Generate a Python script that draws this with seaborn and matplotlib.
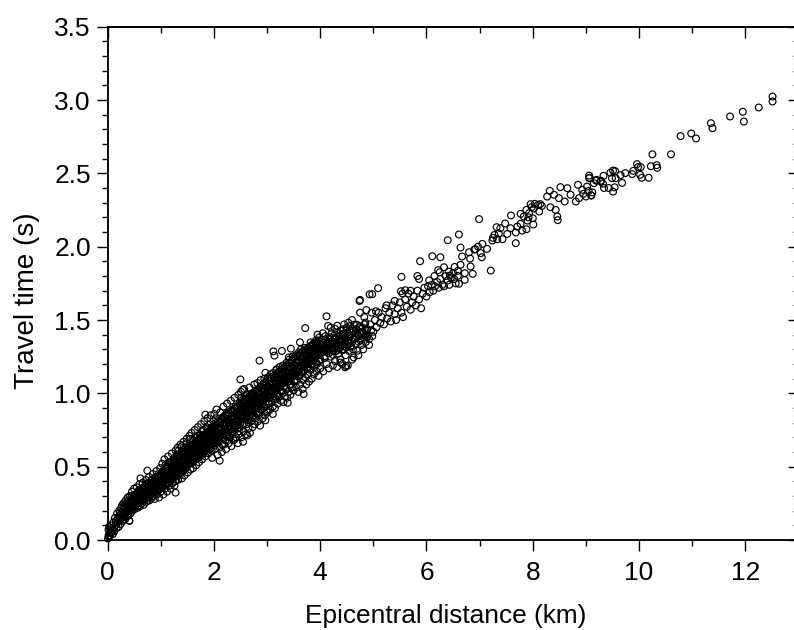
import matplotlib
matplotlib.use("Agg")
import matplotlib.pyplot as plt
from matplotlib.ticker import MultipleLocator
import pandas as pd
import seaborn as sns

origin_pts = [(0.01,.01),(0.02,.03),(0.03,.02),(0.04,.05),(0.02,.07),(0.05,.03),(0.06,.08),(0.07,.05),(0.03,.09),(0.08,.10),(0.09,.06),(0.1,.04),(0.11,.12),(0.12,.08),(0.13,.06),(0.14,.15),(0.15,.10),(0.16,.13),(0.17,.08),(0.18,.18),(0.19,.12),(0.2,.15),(0.21,.09),(0.22,.2),(0.23,.13),(0.24,.17),(0.25,.11),(0.26,.22),(0.27,.15),(0.28,.19),(0.29,.13),(0.3,.25),(0.31,.17),(0.32,.21),(0.33,.14),(0.34,.27),(0.35,.19),(0.36,.23),(0.37,.16),(0.38,.29),(0.39,.21),(0.4,.25),(0.41,.13),(0.42,.3),(0.43,.18),(0.44,.27),(0.45,.22),(0.46,.33),(0.47,.2),(0.48,.29),(0.49,.24)]

band_a = [(0.5,.35),(0.51,.21),(0.52,.27),(0.53,.31),(0.54,.24),(0.55,.36),(0.56,.29),(0.57,.22),(0.58,.33),(0.59,.26),(0.6,.38),(0.61,.23),(0.62,.31),(0.63,.28),(0.64,.35),(0.65,.25),(0.66,.39),(0.67,.3),(0.68,.24),(0.69,.33),(0.7,.27),(0.71,.37),(0.72,.41),(0.73,.26),(0.74,.31),(0.75,.35),(0.76,.29),(0.77,.39),(0.78,.43),(0.79,.27),(0.8,.33),(0.81,.37),(0.82,.31),(0.83,.41),(0.84,.29),(0.85,.45),(0.86,.35),(0.87,.39),(0.88,.33),(0.89,.28),(0.9,.43),(0.91,.37),(0.92,.47),(0.93,.31),(0.94,.41),(0.95,.35),(0.96,.45),(0.97,.29),(0.98,.39),(0.99,.49),(1.0,.33),(1.01,.43),(1.02,.37),(1.03,.52),(1.04,.47),(1.05,.31),(1.06,.41),(1.07,.55),(1.08,.35),(1.09,.45),(1.1,.39),(1.11,.5),(1.12,.33),(1.13,.43),(1.14,.57),(1.15,.47),(1.16,.37),(1.17,.53),(1.18,.41),(1.19,.35),(1.2,.45),(1.21,.59),(1.22,.5),(1.23,.39),(1.24,.55),(1.25,.43),(1.26,.37),(1.27,.48),(1.28,.61),(1.29,.41),(1.3,.52)]
band_b = [(1.01,.4),(1.03,.46),(1.05,.36),(1.07,.42),(1.09,.51),(1.11,.44),(1.13,.38),(1.15,.53),(1.17,.46),(1.19,.41),(1.21,.49),(1.23,.44),(1.25,.54),(1.27,.4),(1.29,.57),(1.31,.46),(1.32,.63),(1.33,.41),(1.34,.52),(1.35,.58),(1.36,.44),(1.37,.65),(1.38,.49),(1.39,.55),(1.4,.42),(1.41,.6),(1.42,.47),(1.43,.67),(1.44,.53),(1.45,.44),(1.46,.57),(1.47,.63),(1.48,.49),(1.49,.69),(1.5,.55),(1.51,.46),(1.52,.6),(1.53,.52),(1.54,.71),(1.55,.65),(1.56,.48),(1.57,.57),(1.58,.73),(1.59,.62),(1.6,.53),(1.61,.49),(1.62,.68),(1.63,.59),(1.64,.75),(1.65,.64),(1.66,.55),(1.67,.51),(1.68,.7),(1.69,.6),(1.7,.77),(1.71,.66),(1.72,.53),(1.73,.57),(1.74,.72),(1.75,.63),(1.76,.79),(1.77,.68),(1.78,.55),(1.79,.6),(1.8,.75),(1.81,.65),(1.82,.81),(1.83,.7),(1.84,.57),(1.85,.62),(1.86,.77),(1.87,.67),(1.88,.83),(1.89,.72),(1.9,.59),(1.91,.64),(1.92,.79),(1.93,.69),(1.94,.85),(1.95,.74),(1.96,.61),(1.97,.56),(1.98,.66),(1.99,.81)]
band_c = [(1.3,.58),(1.32,.54),(1.34,.61),(1.36,.5),(1.38,.57),(1.4,.64),(1.42,.55),(1.44,.6),(1.46,.51),(1.48,.66),(1.5,.61),(1.52,.56),(1.54,.64),(1.56,.69),(1.58,.58),(1.6,.65),(1.62,.6),(1.64,.7),(1.66,.62),(1.68,.58),(1.7,.71),(1.72,.63),(1.74,.67),(1.76,.6),(1.78,.74),(1.8,.69),(1.82,.62),(1.84,.72),(1.86,.66),(1.88,.76),(1.9,.7),(1.92,.62),(1.94,.73),(1.96,.67),(1.98,.77),(2.0,.71),(2.01,.86),(2.02,.62),(2.03,.76),(2.04,.66),(2.05,.89),(2.06,.72),(2.07,.58),(2.08,.81),(2.09,.68),(2.1,.77),(2.11,.63),(2.12,.87),(2.13,.73),(2.14,.83),(2.15,.6),(2.16,.7),(2.17,.79),(2.18,.91),(2.19,.65),(2.2,.75),(2.21,.85),(2.22,.68),(2.23,.62),(2.24,.8),(2.25,.93),(2.26,.72),(2.27,.87),(2.28,.66),(2.29,.77),(2.3,.83),(2.31,.7),(2.32,.95),(2.33,.64),(2.34,.79),(2.35,.89),(2.36,.74),(2.37,.68),(2.38,.84),(2.39,.97),(2.4,.76),(2.41,.91),(2.42,.7),(2.43,.81),(2.44,.86),(2.45,.66),(2.46,.99),(2.47,.74),(2.48,.93),(2.49,.79)]
band_d = [(2.0,.79),(2.02,.74),(2.04,.83),(2.06,.67),(2.08,.76),(2.1,.71),(2.12,.8),(2.14,.75),(2.16,.65),(2.18,.84),(2.2,.79),(2.22,.73),(2.24,.86),(2.26,.81),(2.28,.75),(2.3,.7),(2.32,.88),(2.34,.73),(2.36,.82),(2.38,.77),(2.4,.69),(2.42,.86),(2.44,.78),(2.46,.72),(2.48,.88),(2.5,.84),(2.51,1.01),(2.52,.7),(2.53,.94),(2.54,.78),(2.55,.89),(2.56,.74),(2.57,1.03),(2.58,.83),(2.59,.96),(2.6,.72),(2.61,.87),(2.62,.79),(2.63,.99),(2.64,.91),(2.65,.76),(2.66,.84),(2.67,1.04),(2.68,.73),(2.69,.93),(2.7,.81),(2.71,.88),(2.72,1.0),(2.73,.77),(2.74,.95),(2.75,.85),(2.76,1.06),(2.77,.79),(2.78,.91),(2.79,.83),(2.8,.97),(2.81,.87),(2.82,1.07),(2.83,.81),(2.84,1.01),(2.85,.93),(2.86,.86),(2.87,.78),(2.88,1.09),(2.89,.96),(2.9,.89),(2.91,1.03),(2.92,.83),(2.93,.98),(2.94,.91),(2.95,1.1),(2.96,.85),(2.97,1.05),(2.98,.94),(2.99,.88)]
band_e = [(2.5,.91),(2.52,.97),(2.54,.86),(2.56,.93),(2.58,.89),(2.6,.98),(2.62,.85),(2.64,.82),(2.66,.95),(2.68,.9),(2.7,.99),(2.72,.86),(2.74,.92),(2.76,.98),(2.78,.84),(2.8,.9),(2.82,.96),(2.84,.87),(2.86,1.0),(2.88,.92),(2.9,.98),(2.92,.93),(2.94,1.02),(2.96,.96),(2.98,1.08),(3.0,.99),(3.01,.87),(3.02,1.11),(3.03,.93),(3.04,1.04),(3.05,.97),(3.06,.89),(3.07,1.13),(3.08,1.01),(3.09,.94),(3.1,1.07),(3.11,.91),(3.12,1.14),(3.13,.98),(3.14,1.03),(3.15,.9),(3.16,1.09),(3.17,.96),(3.18,1.16),(3.19,1.0),(3.2,.93),(3.21,1.05),(3.22,1.11),(3.23,.98),(3.24,1.18),(3.25,1.02),(3.26,.95),(3.27,1.07),(3.28,1.13),(3.29,1.0),(3.3,1.19),(3.31,.94),(3.32,1.05),(3.33,1.1),(3.34,.98),(3.35,1.15),(3.36,1.03),(3.37,1.21),(3.38,.97),(3.39,1.08),(3.4,1.13),(3.41,1.01),(3.42,1.23),(3.43,1.06),(3.44,.99),(3.45,1.17),(3.46,1.11),(3.47,1.04),(3.48,1.25),(3.49,1.14)]
band_f = [(3.5,1.02),(3.51,1.08),(3.52,1.19),(3.53,1.12),(3.54,1.26),(3.55,1.04),(3.56,1.15),(3.57,1.09),(3.58,1.21),(3.59,1.01),(3.6,1.28),(3.61,1.12),(3.62,1.06),(3.63,1.18),(3.64,1.3),(3.65,1.14),(3.66,1.24),(3.67,1.03),(3.68,1.09),(3.69,1.2),(3.7,1.16),(3.71,1.31),(3.72,1.11),(3.73,1.26),(3.74,1.06),(3.75,1.22),(3.76,1.18),(3.77,1.13),(3.78,1.29),(3.79,1.08),(3.8,1.24),(3.81,1.32),(3.82,1.16),(3.83,1.2),(3.84,1.1),(3.85,1.27),(3.86,1.22),(3.87,1.34),(3.88,1.13),(3.89,1.18),(3.9,1.29),(3.91,1.24),(3.92,1.36),(3.93,1.15),(3.94,1.2),(3.95,1.31),(3.96,1.26),(3.97,1.12),(3.98,1.38),(3.99,1.22),(4.0,1.17),(4.02,1.28),(4.04,1.33),(4.06,1.15),(4.08,1.24),(4.1,1.39),(4.12,1.2),(4.14,1.3),(4.16,1.17),(4.18,1.35),(4.2,1.25),(4.22,1.41),(4.24,1.19),(4.26,1.31),(4.28,1.22),(4.3,1.37),(4.32,1.18),(4.34,1.27),(4.36,1.33),(4.38,1.23),(4.4,1.4),(4.42,1.2),(4.44,1.3),(4.46,1.35),(4.48,1.26),(4.5,1.43),(4.52,1.36),(4.54,1.29),(4.56,1.39),(4.58,1.32),(4.6,1.44),(4.62,1.3),(4.64,1.37),(4.66,1.41),(4.68,1.34),(4.7,1.29),(4.72,1.39),(4.74,1.45),(4.76,1.36),(4.78,1.33),(4.8,1.42),(4.82,1.38),(4.84,1.47),(4.86,1.35),(4.88,1.44),(4.9,1.4),(4.92,1.37),(4.94,1.47),(4.96,1.43),(4.98,1.39)]
fill_low = [(.305,.183),(.325,.221),(.347,.196),(.362,.247),(.388,.171),(.403,.231),(.415,.262),(.437,.208),(.455,.254),(.472,.283),(.491,.219),(.507,.291),(.513,.243),(.536,.272),(.548,.316),(.565,.251),(.582,.297),(.597,.278),(.611,.327),(.625,.262),(.639,.304),(.652,.344),(.668,.283),(.683,.321),(.694,.268),(.706,.352),(.718,.297),(.734,.336),(.747,.318),(.759,.271),(.771,.362),(.785,.307),(.796,.347),(.808,.385),(.823,.291),(.834,.358),(.846,.322),(.859,.398),(.871,.341),(.883,.372),(.897,.309),(.905,.414),(.918,.354),(.929,.391),(.941,.332),(.953,.427),(.966,.369),(.978,.406),(.987,.347),(.998,.441),(1.012,.382),(1.024,.418),(1.036,.362),(1.049,.458),(1.062,.392),(1.074,.433),(1.083,.374),(1.095,.474),(1.108,.412),(1.119,.449),(1.127,.389),(1.142,.493),(1.153,.424),(1.164,.461),(1.178,.402),(1.189,.511),(1.203,.437),(1.216,.476),(1.228,.417),(1.239,.523),(1.252,.453),(1.263,.497),(1.274,.432),(1.287,.541),(1.298,.468),(1.312,.509),(1.323,.449),(1.337,.556),(1.349,.482),(1.361,.527),(1.372,.463),(1.384,.572),(1.396,.498),(1.408,.541),(1.421,.481),(1.433,.586),(1.447,.516),(1.459,.557),(1.471,.493),(1.483,.603),(1.494,.529)]
fill_mid = [(1.507,.574),(1.518,.512),(1.529,.622),(1.542,.543),(1.553,.593),(1.566,.527),(1.577,.637),(1.589,.556),(1.601,.609),(1.613,.541),(1.626,.652),(1.638,.571),(1.649,.623),(1.661,.558),(1.674,.668),(1.686,.587),(1.697,.639),(1.709,.573),(1.722,.681),(1.734,.602),(1.746,.653),(1.758,.589),(1.769,.697),(1.781,.617),(1.793,.668),(1.806,.603),(1.818,.713),(1.829,.632),(1.842,.684),(1.853,.619),(1.866,.729),(1.877,.647),(1.889,.698),(1.901,.634),(1.914,.742),(1.926,.662),(1.938,.713),(1.951,.648),(1.963,.758),(1.975,.677),(1.987,.728),(1.996,.663),(2.008,.771),(2.019,.692),(2.031,.741),(2.043,.678),(2.056,.787),(2.068,.707),(2.079,.756),(2.091,.693),(2.104,.803),(2.116,.721),(2.127,.771),(2.139,.708),(2.152,.817),(2.164,.736),(2.176,.786),(2.187,.722),(2.199,.832),(2.212,.751),(2.224,.801),(2.236,.738),(2.248,.847),(2.259,.766),(2.272,.817),(2.284,.753),(2.296,.862),(2.308,.782),(2.319,.831),(2.331,.768),(2.344,.878),(2.356,.797),(2.367,.846),(2.379,.783),(2.392,.893),(2.404,.812),(2.416,.862),(2.428,.798),(2.439,.907),(2.451,.827),(2.464,.876),(2.476,.813),(2.488,.922),(2.499,.842),(2.512,.893),(2.524,.829),(2.536,.937),(2.548,.858),(2.559,.908),(2.571,.844),(2.583,.953),(2.596,.873),(2.608,.923),(2.619,.859),(2.631,.968),(2.644,.888),(2.656,.938),(2.668,.875),(2.679,.983),(2.691,.903),(2.704,.953),(2.716,.889),(2.727,.998),(2.739,.918),(2.752,.969),(2.764,.904),(2.776,1.013),(2.788,.933),(2.799,.984),(2.812,.919),(2.824,1.029),(2.836,.948),(2.847,.999),(2.859,.934),(2.872,1.042),(2.884,.963),(2.896,1.013),(2.907,.949),(2.919,1.058),(2.932,.978),(2.944,1.028),(2.956,.964),(2.968,1.073),(2.979,.993)]
fill_high = [(3.006,1.043),(3.018,.979),(3.029,1.088),(3.042,1.008),(3.054,1.058),(3.067,.994),(3.078,1.103),(3.091,1.023),(3.103,1.073),(3.116,1.009),(3.127,1.118),(3.139,1.038),(3.151,1.088),(3.164,1.024),(3.176,1.133),(3.188,1.053),(3.201,1.103),(3.213,1.039),(3.226,1.149),(3.238,1.068),(3.249,1.118),(3.262,1.054),(3.274,1.164),(3.287,1.083),(3.299,1.133),(3.312,1.069),(3.324,1.179),(3.336,1.098),(3.348,1.148),(3.361,1.084),(3.373,1.194),(3.386,1.113),(3.397,1.163),(3.409,1.099),(3.422,1.209),(3.434,1.128),(3.447,1.178),(3.459,1.114),(3.472,1.224),(3.484,1.143),(3.496,1.193),(3.508,1.129),(3.521,1.239),(3.533,1.158),(3.546,1.208),(3.558,1.144),(3.569,1.253),(3.582,1.173),(3.594,1.223),(3.607,1.159),(3.619,1.268),(3.632,1.188),(3.644,1.238),(3.657,1.174),(3.669,1.282),(3.681,1.203),(3.694,1.252),(3.706,1.188),(3.719,1.296),(3.731,1.218),(3.743,1.267),(3.756,1.203),(3.768,1.309),(3.781,1.232),(3.793,1.281),(3.806,1.218),(3.818,1.323),(3.831,1.246),(3.843,1.295),(3.856,1.232),(3.868,1.336),(3.881,1.261),(3.893,1.309),(3.906,1.246),(3.918,1.348),(3.931,1.275),(3.943,1.322),(3.956,1.259),(3.968,1.361),(3.981,1.288),(3.993,1.335),(4.013,1.272),(4.032,1.301),(4.051,1.347),(4.073,1.284),(4.092,1.313),(4.113,1.358),(4.134,1.297),(4.153,1.326),(4.174,1.369),(4.194,1.308),(4.213,1.338),(4.234,1.288),(4.254,1.348),(4.274,1.377),(4.293,1.319),(4.313,1.347),(4.334,1.297),(4.354,1.386),(4.373,1.358),(4.394,1.328),(4.413,1.371),(4.434,1.407),(4.454,1.338),(4.474,1.382),(4.493,1.312),(4.514,1.416),(4.534,1.348),(4.556,1.392),(4.574,1.324)]
fill_extra_a = [(.212,.131),(.234,.187),(.251,.148),(.273,.236),(.296,.176),(.314,.233),(.336,.156),(.352,.241),(.374,.193),(.392,.268),(.412,.227),(.431,.202),(.452,.298),(.471,.233),(.486,.262),(.503,.229),(.521,.311),(.542,.257),(.561,.282),(.576,.234),(.593,.341),(.614,.289),(.633,.314),(.647,.268),(.664,.357),(.681,.296),(.701,.332),(.716,.278),(.733,.382),(.749,.351),(.763,.298),(.781,.374),(.802,.328),(.819,.403),(.838,.342),(.854,.371),(.873,.317),(.892,.421),(.911,.348),(.932,.379),(.951,.337),(.968,.437),(.986,.397),(1.006,.452),(1.021,.404),(1.043,.378),(1.061,.468),(1.077,.421),(1.096,.436),(1.114,.391),(1.132,.499),(1.151,.441),(1.172,.483),(1.188,.429),(1.206,.527),(1.225,.463),(1.243,.508),(1.262,.442),(1.281,.549),(1.301,.496),(1.318,.527),(1.338,.473),(1.356,.568),(1.374,.509),(1.391,.539),(1.412,.492),(1.431,.604),(1.451,.538),(1.468,.573),(1.488,.507),(1.506,.622),(1.524,.549),(1.544,.586),(1.563,.524),(1.582,.649),(1.602,.572),(1.621,.618),(1.641,.547),(1.659,.672),(1.678,.593),(1.696,.629),(1.716,.562),(1.733,.694),(1.753,.618),(1.772,.648),(1.791,.582),(1.809,.718),(1.828,.643),(1.847,.668),(1.866,.604),(1.884,.736),(1.903,.668),(1.921,.693),(1.941,.623),(1.959,.766),(1.979,.688),(1.998,.713)]
fill_extra_b = [(2.016,.648),(2.036,.784),(2.053,.708),(2.072,.733),(2.093,.668),(2.111,.809),(2.131,.732),(2.149,.758),(2.168,.688),(2.186,.832),(2.206,.757),(2.226,.782),(2.245,.709),(2.263,.853),(2.282,.778),(2.302,.806),(2.321,.727),(2.341,.873),(2.361,.802),(2.381,.827),(2.401,.748),(2.421,.898),(2.441,.823),(2.461,.848),(2.481,.768),(2.501,.921),(2.521,.848),(2.541,.873),(2.561,.793),(2.581,.942),(2.601,.868),(2.621,.898),(2.641,.818),(2.661,.968),(2.681,.893),(2.701,.918),(2.721,.838),(2.741,.989),(2.761,.913),(2.781,.943),(2.801,.863),(2.821,1.014),(2.841,.938),(2.861,.968),(2.881,.888),(2.901,1.036),(2.921,.963),(2.941,.988),(2.961,.908),(2.981,1.062),(3.001,.983),(3.021,1.013),(3.041,.933),(3.061,1.083),(3.081,1.008),(3.101,1.038),(3.121,.958),(3.141,1.108),(3.161,1.033),(3.181,1.063),(3.201,.983),(3.221,1.134),(3.241,1.058),(3.261,1.088),(3.281,1.013),(3.301,1.158),(3.321,1.083),(3.341,1.113),(3.361,1.038),(3.381,1.183),(3.401,1.108),(3.421,1.138),(3.441,1.063),(3.461,1.208),(3.481,1.133),(3.501,1.163),(3.521,1.088),(3.541,1.228),(3.561,1.158),(3.581,1.188),(3.601,1.118),(3.621,1.253),(3.641,1.183),(3.661,1.213),(3.681,1.143),(3.701,1.278),(3.721,1.208),(3.741,1.238),(3.761,1.168),(3.781,1.298),(3.801,1.233),(3.821,1.258),(3.841,1.193),(3.861,1.318),(3.881,1.253),(3.901,1.278),(3.921,1.213),(3.941,1.338),(3.961,1.278),(3.981,1.303),(4.001,1.233),(4.021,1.352),(4.041,1.293),(4.061,1.318),(4.081,1.253),(4.101,1.368),(4.121,1.308),(4.141,1.338),(4.161,1.273),(4.181,1.382),(4.201,1.323),(4.221,1.353),(4.241,1.263),(4.261,1.393),(4.281,1.343),(4.301,1.288),(4.321,1.413),(4.341,1.363),(4.361,1.306),(4.381,1.428),(4.401,1.353),(4.421,1.294),(4.441,1.438),(4.461,1.373),(4.481,1.318),(4.501,1.448),(4.521,1.393),(4.541,1.338),(4.561,1.458),(4.581,1.413),(4.601,1.353),(4.621,1.428),(4.641,1.468),(4.661,1.378),(4.681,1.438),(4.701,1.403),(4.721,1.352),(4.741,1.458),(4.761,1.418),(4.781,1.372),(4.801,1.448),(4.821,1.408),(4.841,1.392),(4.861,1.428),(4.881,1.383)]
outer_band = [(2.5,1.095),(2.86,1.223),(3.72,1.445),(4.12,1.525),(4.74,1.63),(4.75,1.55),(4.87,1.568),(4.93,1.675),(3.62,1.348),(3.82,1.348),(3.81,1.307),(3.45,1.305),(3.12,1.286),(3.14,1.257),(3.28,1.289),(3.41,1.245),(1.84,.855),(.75,.473),(.62,.42),(1.28,.323),(.41,.132),(2.55,.67),(2.63,.714),(2.11,.541),(2.97,.816),(4.49,1.186),(4.63,1.245),(4.32,1.461),(4.2,1.448),(4.53,1.482),(4.69,1.468),(4.85,1.482),(2.54,1.023),(2.97,1.14),(3.18,1.164),(3.69,.995),(3.39,.936),(3.11,.859),(4.47,1.178),(4.52,1.19),(4.38,1.21),(4.6,1.23),(4.72,1.26),(4.81,1.3),(4.92,1.33),(4.05,1.41),(4.15,1.46),(3.95,1.4),(4.28,1.44),(4.45,1.47),(4.6,1.5),(4.83,1.52),(4.97,1.55)]
mid_range = [(5.0,1.42),(5.03,1.5),(5.06,1.45),(5.1,1.55),(5.13,1.48),(5.16,1.52),(5.2,1.47),(5.23,1.58),(5.26,1.51),(5.3,1.55),(5.33,1.49),(5.36,1.6),(5.4,1.54),(5.43,1.5),(5.46,1.58),(5.5,1.62),(5.53,1.55),(5.56,1.52),(5.6,1.64),(5.63,1.59),(5.66,1.68),(5.7,1.57),(5.73,1.62),(5.76,1.66),(5.8,1.6),(5.83,1.7),(5.86,1.64),(5.9,1.58),(5.93,1.68),(5.96,1.72),(6.0,1.66),(6.03,1.73),(6.06,1.69),(6.1,1.74),(6.13,1.7),(6.16,1.73),(6.2,1.76),(6.23,1.72),(6.26,1.78),(6.3,1.74),(6.33,1.73),(6.36,1.8),(6.4,1.77),(6.43,1.74),(6.46,1.79),(6.5,1.82),(5.55,1.68),(5.7,1.7),(6.05,1.77),(6.15,1.8),(6.22,1.84),(6.42,1.83),(6.52,1.78),(6.55,1.75),(5.25,1.6),(5.4,1.63),(5.05,1.56)]
upper_tail = [(6.99,2.188),(6.61,2.083),(6.40,2.044),(6.64,1.994),(7.59,2.213),(7.68,2.024),(7.21,1.837),(5.88,1.901),(6.11,1.935),(6.26,1.928),(5.53,1.794),(5.83,1.8),(5.86,1.78),(5.09,1.717),(4.98,1.676),(4.75,1.637),(5.52,1.696),(5.6,1.703),(6.33,1.86),(6.25,1.826),(6.44,1.803),(6.53,1.862),(6.59,1.835),(6.59,1.801),(6.72,1.819),(6.72,1.774),(6.61,1.747),(6.87,1.815),(6.83,1.865),(6.82,1.919),(6.67,1.933),(6.64,1.876),(6.8,1.962),(6.92,1.983),(7.02,1.956),(7.04,1.928),(7.05,2.019),(7.14,1.985),(7.24,2.042),(7.32,2.133),(7.48,2.158),(7.39,2.126),(7.33,2.051),(7.43,2.051),(7.52,2.087),(7.68,2.097),(7.58,2.126),(7.77,2.224),(7.88,2.251),(7.96,2.29),(8.04,2.292),(8.17,2.278),(8.12,2.24),(8.0,2.194),(8.01,2.151),(7.88,2.119),(7.8,2.11),(7.9,2.178),(7.77,2.156),(7.71,2.137),(7.83,2.206),(7.93,2.229),(8.43,2.251),(8.46,2.206),(8.47,2.181),(8.33,2.269),(8.27,2.342),(8.32,2.381),(8.4,2.354),(8.52,2.406),(8.49,2.331),(8.6,2.308),(8.65,2.399),(8.71,2.354),(8.81,2.308),(8.87,2.331),(8.85,2.422),(9.0,2.342),(9.1,2.349),(9.06,2.485),(9.06,2.467),(8.93,2.388),(9.02,2.41),(9.15,2.433),(9.2,2.456),(9.28,2.444),(8.1,2.285),(8.14,2.29),(7.98,2.27),(8.02,2.26),(7.92,2.2),(7.25,2.06),(7.28,2.08),(7.36,2.09),(6.9,1.98),(6.97,2.0)]
far_tail = [(12.51,3.024),(12.51,2.99),(12.25,2.949),(11.95,2.92),(11.97,2.853),(11.71,2.888),(11.35,2.842),(11.38,2.808),(10.98,2.772),(11.07,2.738),(10.78,2.754),(10.6,2.63),(10.25,2.63),(10.22,2.549),(10.33,2.556),(10.34,2.538),(9.96,2.563),(9.98,2.543),(10.03,2.543),(9.89,2.517),(9.87,2.495),(9.74,2.502),(10.02,2.49),(10.05,2.47),(10.18,2.47),(9.68,2.435),(9.65,2.488),(9.55,2.515),(9.51,2.519),(9.46,2.505),(9.49,2.467),(9.56,2.467),(9.33,2.483),(9.19,2.45),(9.28,2.45),(9.32,2.43),(9.34,2.4),(9.43,2.4),(9.54,2.405),(9.51,2.375),(9.1,2.35),(9.07,2.47),(8.95,2.36),(9.05,2.38),(9.12,2.37)]

point_groups = [origin_pts, band_a, band_b, band_c, band_d, band_e, band_f, fill_low, fill_mid, fill_high, fill_extra_a, fill_extra_b, outer_band, mid_range, upper_tail, far_tail]
x_ticks = [0, 2, 4, 6, 8, 10, 12]
y_ticks = [0.0, 0.5, 1.0, 1.5, 2.0, 2.5, 3.0, 3.5]

sns.set_style("ticks")
plt.rcParams["font.family"] = ["Liberation Sans", "DejaVu Sans"]
plt.rcParams["text.color"] = "black"
plt.rcParams["axes.labelcolor"] = "black"

rows = [p for g in point_groups for p in g]
df = pd.DataFrame(rows, columns=["distance", "time"])

W, H = 794, 630
fig = plt.figure(figsize=(W / 100, H / 100), dpi=100)
ax = fig.add_axes([107.5 / W, (H - 540) / H, (798.6 - 107.5) / W, (540 - 26.7) / H])

sns.scatterplot(data=df, x="distance", y="time", ax=ax, marker="o", s=24,
                facecolors="none", edgecolor="black", linewidth=0.85, clip_on=False, legend=False)

MAJ, MIN, TW, SW = 7.9, 4.3, 1.0, 1.35
ax.set_xlim(0, 13)
ax.set_ylim(0, 3.5)
ax.set_xticks(x_ticks)
ax.set_yticks(y_ticks)
ax.set_xticklabels([str(v) for v in x_ticks])
ax.set_yticklabels([f"{v:.1f}" for v in y_ticks])
ax.xaxis.set_minor_locator(MultipleLocator(1))
ax.yaxis.set_minor_locator(MultipleLocator(0.1))
ax.tick_params(which="major", direction="out", length=MAJ, width=TW, labelsize=19, color="black", labelcolor="black")
ax.tick_params(which="minor", direction="out", length=MIN, width=TW, color="black")
ax.tick_params(axis="x", which="major", pad=7.5)
ax.tick_params(axis="y", which="major", pad=4)
for s in ax.spines.values():
    s.set_linewidth(SW)
    s.set_color("black")
    s.set_visible(True)

top = ax.secondary_xaxis("top")
top.set_xticks(x_ticks)
top.xaxis.set_minor_locator(MultipleLocator(1))
top.tick_params(which="major", direction="in", length=MAJ, width=TW, labeltop=False, color="black")
top.tick_params(which="minor", direction="in", length=MIN, width=TW, color="black")
top.spines["top"].set_linewidth(SW)

right = ax.secondary_yaxis("right")
right.set_yticks(y_ticks)
right.yaxis.set_minor_locator(MultipleLocator(0.1))
right.tick_params(which="major", direction="in", length=MAJ, width=TW, labelright=False, color="black")
right.tick_params(which="minor", direction="in", length=MIN, width=TW, color="black")
right.spines["right"].set_linewidth(SW)

ax.set_xlabel("Epicentral distance (km)", fontsize=18.9, color="black")
ax.set_ylabel("Travel time (s)", fontsize=20, color="black")
ax.xaxis.set_label_coords((446 - 107.5) / 691.1, -(604 - 540) / 513.3)
ax.yaxis.set_label_coords((40 - 107.5) / 691.1, (540 - 301) / 513.3)

fig.savefig("out.png", dpi=100)
